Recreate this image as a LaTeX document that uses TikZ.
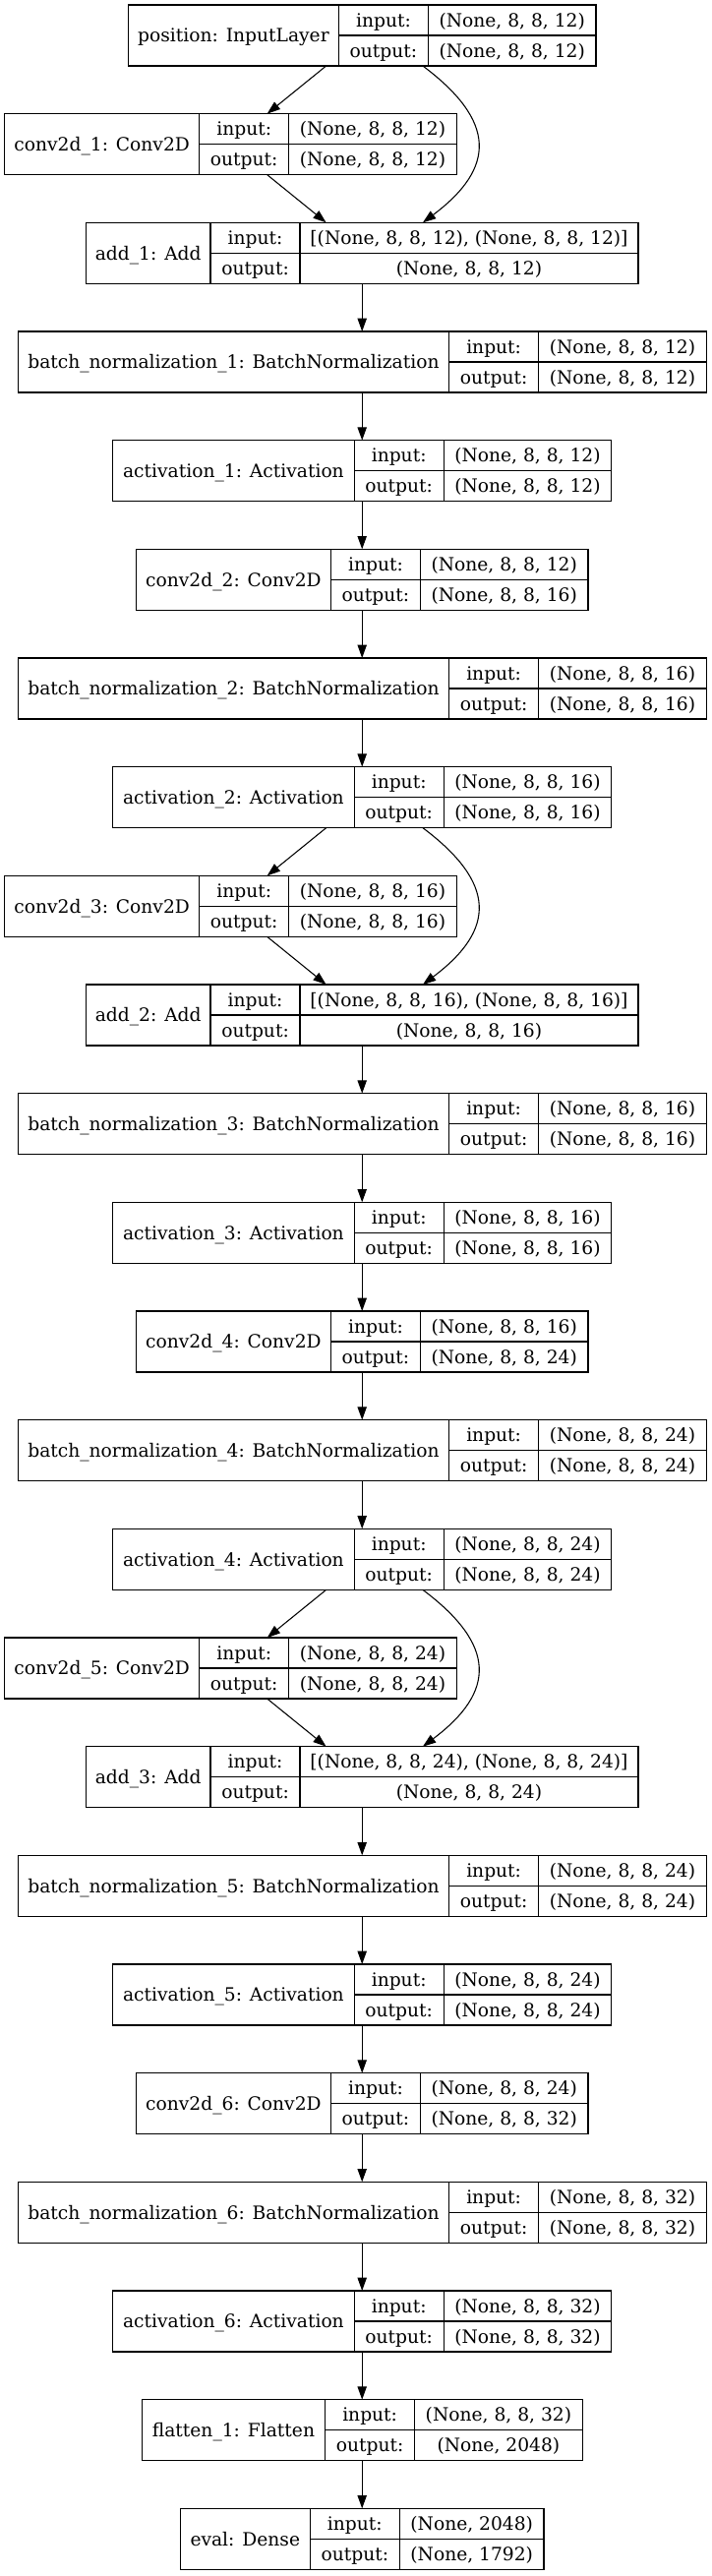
\documentclass[tikz,border=0pt]{standalone}
\usepackage{fontspec}
\setmainfont{DejaVu Serif}
\usetikzlibrary{arrows.meta,positioning}

\tikzset{
  layer frame/.style = {
    minimum height = 46.5pt,
    inner sep = 0pt,
    outer sep = 0pt},
  cell/.style = {
    draw,
    line width = 1pt,
    inner sep = 0pt,
    outer sep = 0pt,
    text height = 10.2pt,
    text depth = 0pt,
    font = \fontsize{14pt}{16pt}\selectfont},
  name cell/.style = {cell, minimum height = 46.5pt, anchor = west},
  port cell/.style = {cell, minimum height = 23.25pt, minimum width = 68.25pt, anchor = north west},
  value cell/.style = {cell, minimum height = 23.25pt, anchor = north west},
  edge/.style = {-{Triangle[length=10pt,width=7pt]}, line width = 0.8pt}
}

% #1 name, #2 placement, #3 name width, #4 value width, #5 label, #6 input, #7 output
\newcommand{\nnlayer}[7]{%
  \node[layer frame, minimum width = #3+68.25pt+#4, #2] (#1) {};
  \node[name cell, minimum width = #3] (#1-name) at (#1.west) {#5};
  \node[port cell] (#1-in) at (#1-name.north east) {input:};
  \node[port cell] (#1-out) at (#1-in.south west) {output:};
  \node[value cell, minimum width = #4] (#1-inval) at (#1-in.north east) {#6};
  \node[value cell, minimum width = #4] (#1-outval) at (#1-out.north east) {#7};
}

\begin{document}
\begin{tikzpicture}[node distance = 36.5pt]
    \useasboundingbox (0,0) rectangle (543pt,-1964.25pt);

    % first residual block
    \nnlayer{pos}{anchor=north, at={(276.15pt,-3.75pt)}}{160.5pt}{127.9pt}{position: InputLayer}{(None, 8, 8, 12)}{(None, 8, 8, 12)}
    \nnlayer{conv1}{below=of pos, xshift=-100.3pt}{148.5pt}{127.9pt}{conv2d\_1: Conv2D}{(None, 8, 8, 12)}{(None, 8, 8, 12)}
    \nnlayer{add1}{below=of conv1, xshift=100.3pt}{94.9pt}{257.9pt}{add\_1: Add}{[(None, 8, 8, 12), (None, 8, 8, 12)]}{(None, 8, 8, 12)}
    \nnlayer{bn1}{below=of add1}{328.8pt}{127.9pt}{batch\_normalization\_1: BatchNormalization}{(None, 8, 8, 12)}{(None, 8, 8, 12)}
    \nnlayer{act1}{below=of bn1}{184.1pt}{127.9pt}{activation\_1: Activation}{(None, 8, 8, 12)}{(None, 8, 8, 12)}
    \nnlayer{conv2}{below=of act1}{148.5pt}{127.9pt}{conv2d\_2: Conv2D}{(None, 8, 8, 12)}{(None, 8, 8, 16)}
    \nnlayer{bn2}{below=of conv2}{328.8pt}{127.9pt}{batch\_normalization\_2: BatchNormalization}{(None, 8, 8, 16)}{(None, 8, 8, 16)}
    \nnlayer{act2}{below=of bn2}{184.1pt}{127.9pt}{activation\_2: Activation}{(None, 8, 8, 16)}{(None, 8, 8, 16)}

    % second residual block
    \nnlayer{conv3}{below=of act2, xshift=-100.3pt}{148.5pt}{127.9pt}{conv2d\_3: Conv2D}{(None, 8, 8, 16)}{(None, 8, 8, 16)}
    \nnlayer{add2}{below=of conv3, xshift=100.3pt}{94.9pt}{257.9pt}{add\_2: Add}{[(None, 8, 8, 16), (None, 8, 8, 16)]}{(None, 8, 8, 16)}
    \nnlayer{bn3}{below=of add2}{328.8pt}{127.9pt}{batch\_normalization\_3: BatchNormalization}{(None, 8, 8, 16)}{(None, 8, 8, 16)}
    \nnlayer{act3}{below=of bn3}{184.1pt}{127.9pt}{activation\_3: Activation}{(None, 8, 8, 16)}{(None, 8, 8, 16)}
    \nnlayer{conv4}{below=of act3}{148.5pt}{127.9pt}{conv2d\_4: Conv2D}{(None, 8, 8, 16)}{(None, 8, 8, 24)}
    \nnlayer{bn4}{below=of conv4}{328.8pt}{127.9pt}{batch\_normalization\_4: BatchNormalization}{(None, 8, 8, 24)}{(None, 8, 8, 24)}
    \nnlayer{act4}{below=of bn4}{184.1pt}{127.9pt}{activation\_4: Activation}{(None, 8, 8, 24)}{(None, 8, 8, 24)}

    % third residual block
    \nnlayer{conv5}{below=of act4, xshift=-100.3pt}{148.5pt}{127.9pt}{conv2d\_5: Conv2D}{(None, 8, 8, 24)}{(None, 8, 8, 24)}
    \nnlayer{add3}{below=of conv5, xshift=100.3pt}{94.9pt}{257.9pt}{add\_3: Add}{[(None, 8, 8, 24), (None, 8, 8, 24)]}{(None, 8, 8, 24)}
    \nnlayer{bn5}{below=of add3}{328.8pt}{127.9pt}{batch\_normalization\_5: BatchNormalization}{(None, 8, 8, 24)}{(None, 8, 8, 24)}
    \nnlayer{act5}{below=of bn5}{184.1pt}{127.9pt}{activation\_5: Activation}{(None, 8, 8, 24)}{(None, 8, 8, 24)}
    \nnlayer{conv6}{below=of act5}{148.5pt}{127.9pt}{conv2d\_6: Conv2D}{(None, 8, 8, 24)}{(None, 8, 8, 32)}
    \nnlayer{bn6}{below=of conv6}{328.8pt}{127.9pt}{batch\_normalization\_6: BatchNormalization}{(None, 8, 8, 32)}{(None, 8, 8, 32)}
    \nnlayer{act6}{below=of bn6}{184.1pt}{127.9pt}{activation\_6: Activation}{(None, 8, 8, 32)}{(None, 8, 8, 32)}

    % head
    \nnlayer{flatten1}{below=of act6}{139.8pt}{127.9pt}{flatten\_1: Flatten}{(None, 8, 8, 32)}{(None, 2048)}
    \nnlayer{eval}{below=of flatten1}{99pt}{110.1pt}{eval: Dense}{(None, 2048)}{(None, 1792)}

    % Paths

    \foreach \a/\b in {add1/bn1, bn1/act1, act1/conv2, conv2/bn2, bn2/act2,
                       add2/bn3, bn3/act3, act3/conv4, conv4/bn4, bn4/act4,
                       add3/bn5, bn5/act5, act5/conv6, conv6/bn6, bn6/act6,
                       act6/flatten1, flatten1/eval}
        \draw[edge] (\a.south) -- (\b.north);

    \foreach \src/\conv/\add in {pos/conv1/add1, act2/conv3/add2, act4/conv5/add3} {
        \draw[edge] ([xshift=-27.4pt]\src.south) -- ([xshift=27.9pt]\conv.north);
        \draw[edge] ([xshift=27.9pt]\conv.south) -- ([xshift=-27.4pt]\add.north);
        \draw[edge] ([xshift=46.3pt]\src.south) .. controls +(56pt,-42pt) and +(56pt,42pt) .. ([xshift=46.3pt]\add.north);
    }
\end{tikzpicture}
\end{document}
